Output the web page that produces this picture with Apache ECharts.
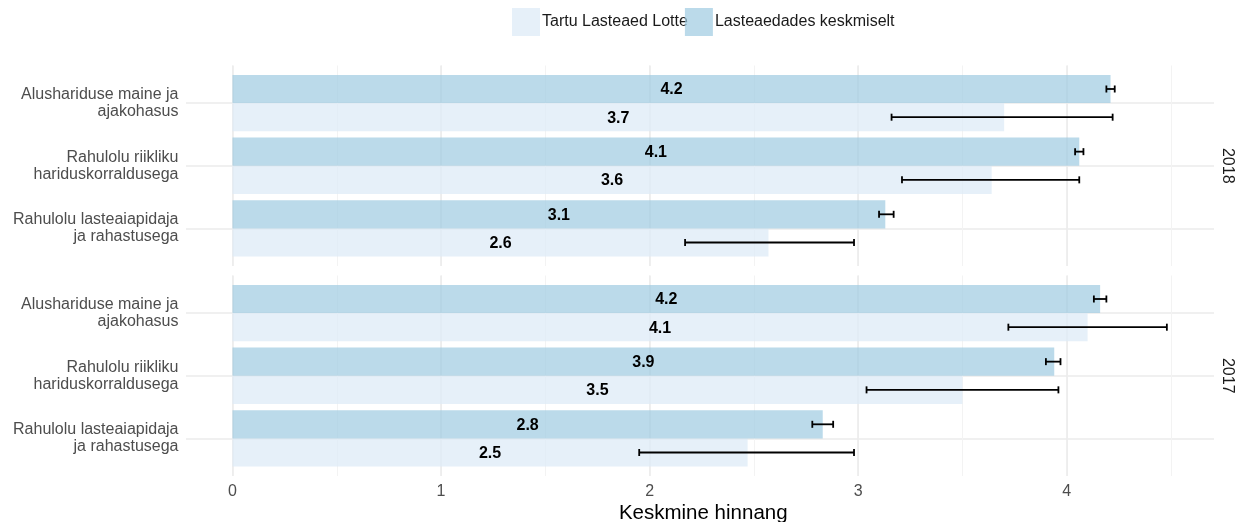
<!DOCTYPE html>
<html><head><meta charset="utf-8">
<script src="https://cdn.jsdelivr.net/npm/echarts@6/dist/echarts.min.js"></script>
<style>html,body{margin:0;padding:0;background:#fff}#c{width:1241px;height:522px}</style>
</head><body><div id="c"></div>
<script>
const categories = ['Alushariduse maine ja\najakohasus', 'Rahulolu riikliku\nhariduskorraldusega', 'Rahulolu lasteaiapidaja\nja rahastusega'];
const categoryPos = [1, 2, 3];
const facets = ['2018', '2017'];
const seriesNames = ['Tartu Lasteaed Lotte', 'Lasteaedades keskmiselt'];
const xTicks = [0, 1, 2, 3, 4];

const lotte2018 = [3.70, 3.64, 2.57];
const lotte2018Low = [3.16, 3.21, 2.17];
const lotte2018High = [4.22, 4.06, 2.98];
const avg2018 = [4.21, 4.06, 3.13];
const avg2018Low = [4.19, 4.04, 3.10];
const avg2018High = [4.23, 4.08, 3.17];

const lotte2017 = [4.10, 3.50, 2.47];
const lotte2017Low = [3.72, 3.04, 1.95];
const lotte2017High = [4.48, 3.96, 2.98];
const avg2017 = [4.16, 3.94, 2.83];
const avg2017Low = [4.13, 3.90, 2.78];
const avg2017High = [4.19, 3.97, 2.88];

const LIGHT = 'rgba(222,235,247,0.75)';
const DARK = 'rgba(158,202,225,0.7)';
const GRID = '#ebebeb';
const FONT = 'Liberation Sans, Arial, sans-serif';

function makeBar(sign, color) {
  return function (params, api) {
    const v = api.value(0), y = api.value(1);
    const p0 = api.coord([0, y]);
    const p1 = api.coord([v, y]);
    const h = Math.abs(api.size([0, 0.45])[1]);
    const top = sign < 0 ? p0[1] - h : p0[1];
    return { type: 'group', children: [
      { type: 'rect', shape: { x: p0[0], y: top, width: p1[0] - p0[0], height: h }, style: { fill: color } },
      { type: 'text', z2: 10, style: { text: v.toFixed(1), x: (p0[0] + p1[0]) / 2, y: top + h / 2 + 1, align: 'center', verticalAlign: 'middle', fontSize: 16, fontWeight: 'bold', fontFamily: FONT, fill: '#000' } }
    ] };
  };
}
function makeErr(sign) {
  return function (params, api) {
    const lo = api.value(0), hi = api.value(1), y = api.value(2);
    const off = 0.225 * sign;
    const a = api.coord([lo, y + off]);
    const b = api.coord([hi, y + off]);
    const c = Math.abs(api.size([0, 0.056])[1]);
    const st = { stroke: '#000', lineWidth: 1.8 };
    return { type: 'group', children: [
      { type: 'line', shape: { x1: a[0], y1: a[1], x2: b[0], y2: b[1] }, style: st },
      { type: 'line', shape: { x1: a[0], y1: a[1] - c, x2: a[0], y2: a[1] + c }, style: st },
      { type: 'line', shape: { x1: b[0], y1: b[1] - c, x2: b[0], y2: b[1] + c }, style: st }
    ] };
  };
}

const facetData = [
  { lotte: lotte2018, lo: lotte2018Low, hi: lotte2018High, avg: avg2018, alo: avg2018Low, ahi: avg2018High },
  { lotte: lotte2017, lo: lotte2017Low, hi: lotte2017High, avg: avg2017, alo: avg2017Low, ahi: avg2017High }
];

const panelTops = [65.5, 275.5];
const grids = [];
panelTops.forEach(t => grids.push({ left: 232.5, top: t, width: 981.5, height: 200.5, outerBoundsMode: 'none', containLabel: false }));
// background grids for the horizontal gridlines, which reach left past the panel
panelTops.forEach(t => grids.push({ left: 186, top: t, width: 1028, height: 200.5, outerBoundsMode: 'none', containLabel: false }));

const X_MAX = 4.706;
const xAxes = [], yAxes = [], series = [];
facets.forEach((f, g) => {
  const isBottom = g === facets.length - 1;
  xAxes.push({ type: 'value', gridIndex: g, position: 'bottom', min: 0, max: X_MAX, interval: 0.5,
    axisLine: { show: false }, axisTick: { show: false }, axisLabel: { show: false },
    splitLine: { show: true, showMaxLine: false, lineStyle: { color: '#f3f3f3', width: 1 } } });
  xAxes.push({ type: 'value', gridIndex: g, position: 'bottom', min: 0, max: X_MAX, interval: 1,
    axisLine: { show: false }, axisTick: { show: false },
    axisLabel: { show: isBottom, customValues: xTicks, fontSize: 16, color: '#4d4d4d', margin: 8, fontFamily: FONT },
    name: isBottom ? 'Keskmine hinnang' : '', nameLocation: 'middle', nameGap: 27,
    nameTextStyle: { fontSize: 20.5, color: '#000', fontFamily: FONT, padding: [0, 40, 0, 0] },
    splitLine: { show: true, showMaxLine: false, lineStyle: { color: GRID, width: 1.6 } } });
  yAxes.push({ type: 'value', gridIndex: g, position: 'left', min: 0.4, max: 3.6, inverse: true,
    axisLine: { show: false }, axisTick: { show: false },
    axisLabel: { customValues: categoryPos, formatter: v => categories[categoryPos.indexOf(v)] || '', fontSize: 16, lineHeight: 17, color: '#4d4d4d', align: 'right', margin: 54, padding: [6, 0, 0, 0], fontFamily: FONT },
    splitLine: { show: false } });
  yAxes.push({ type: 'value', gridIndex: g, position: 'right', min: 0.4, max: 3.6, inverse: true,
    name: f, nameLocation: 'middle', nameRotate: -90, nameGap: 5,
    nameTextStyle: { fontSize: 16, color: '#1a1a1a', fontFamily: FONT },
    axisLine: { show: false }, axisTick: { show: false }, axisLabel: { show: false }, splitLine: { show: false } });
  const d = facetData[g];
  const xi = g * 2 + 1, yi = g * 2;
  series.push({ type: 'custom', name: seriesNames[0], xAxisIndex: xi, yAxisIndex: yi, z: 2,
    itemStyle: { color: LIGHT }, renderItem: makeBar(1, LIGHT), encode: { x: 0, y: 1 },
    data: categoryPos.map((p, i) => [d.lotte[i], p]) });
  series.push({ type: 'custom', name: seriesNames[1], xAxisIndex: xi, yAxisIndex: yi, z: 2,
    itemStyle: { color: DARK }, renderItem: makeBar(-1, DARK), encode: { x: 0, y: 1 },
    data: categoryPos.map((p, i) => [d.avg[i], p]) });
  series.push({ type: 'custom', name: 'err-lotte', xAxisIndex: xi, yAxisIndex: yi, z: 5,
    renderItem: makeErr(1), encode: { x: [0, 1], y: 2 },
    data: categoryPos.map((p, i) => [d.lo[i], d.hi[i], p]) });
  series.push({ type: 'custom', name: 'err-avg', xAxisIndex: xi, yAxisIndex: yi, z: 5,
    renderItem: makeErr(-1), encode: { x: [0, 1], y: 2 },
    data: categoryPos.map((p, i) => [d.alo[i], d.ahi[i], p]) });
});
// background axes: horizontal gridlines at category positions
facets.forEach((f, g) => {
  xAxes.push({ type: 'value', gridIndex: 2 + g, show: false, min: 0, max: 1, splitLine: { show: false } });
  yAxes.push({ type: 'value', gridIndex: 2 + g, min: 0.4, max: 3.6, inverse: true,
    axisLine: { show: false }, axisTick: { show: false, customValues: categoryPos },
    axisLabel: { show: false, customValues: categoryPos },
    splitLine: { show: true, lineStyle: { color: GRID, width: 1.6 } } });
});

const chart = echarts.init(document.getElementById('c'), null, { renderer: 'canvas' });
chart.setOption({
  animation: false,
  backgroundColor: '#fff',
  textStyle: { fontFamily: FONT },
  legend: { data: seriesNames, left: 512, top: 8, padding: 0, itemWidth: 28, itemHeight: 28, itemGap: -3, icon: 'rect',
    textStyle: { fontSize: 16, color: '#1a1a1a', fontFamily: FONT, padding: [0, 0, 0, -3] } },
  grid: grids,
  xAxis: xAxes,
  yAxis: yAxes,
  series: series
});
</script></body></html>
